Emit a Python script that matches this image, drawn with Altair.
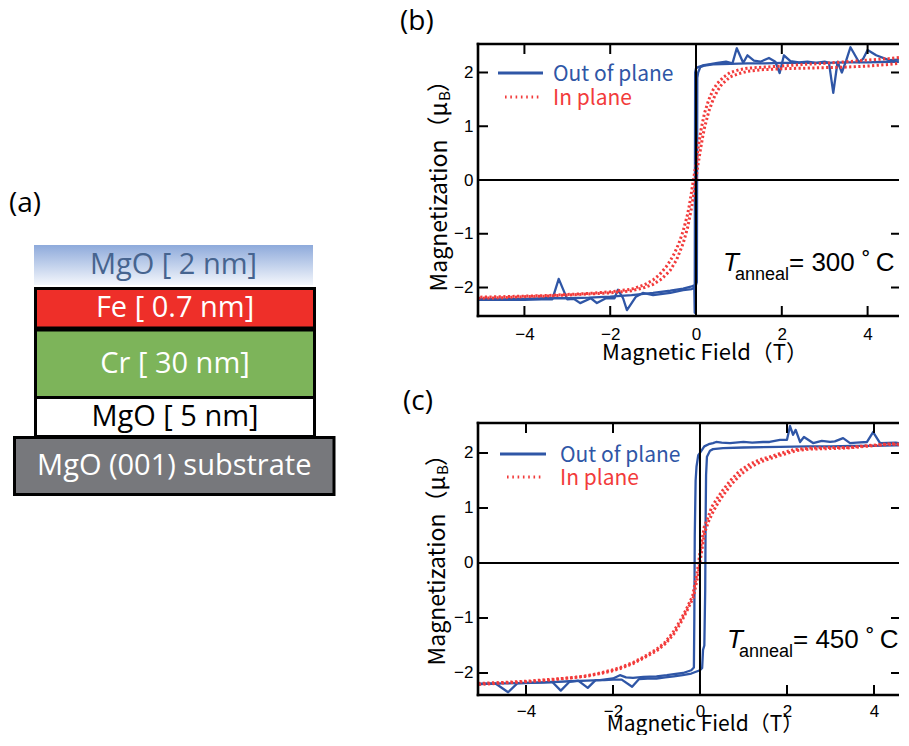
import altair as alt
import pandas as pd

# ================= DATA =================
# ---- panel (a): sample stack, bottom to top ----
layer_labels = ["MgO (001) substrate", "MgO [ 5 nm]", "Cr [ 30 nm]", "Fe [ 0.7 nm]", "MgO [ 2 nm]"]
layer_fills = ["#77787c", "#ffffff", "#7db45a", "#ee2f29", "#8eaadb"]
layer_text_colors = ["#ffffff", "#000000", "#ffffff", "#ffffff", "#46648f"]

# ---- axis ticks ----
x_ticks = [-4, -2, 0, 2, 4]
y_ticks = [-2, -1, 0, 1, 2]

# ---- panel (b): T_anneal = 300 C ----
b_oop_dn_x = [4.73, 4.5, 4.2, 4.0, 3.9, 3.8, 3.6, 3.5, 3.4, 3.3, 3.2, 3.1, 3.0, 2.8, 2.6, 2.4, 2.2, 2.05,
              1.95, 1.85, 1.7, 1.5, 1.35, 1.2, 1.1, 0.95, 0.85, 0.7, 0.5, 0.3, 0.15, 0.05, 0.0, -0.02, -0.03,
              -0.04, -0.1, -0.3, -0.6, -1.0, -1.24, -1.4, -1.61, -1.7, -1.82, -1.9, -2.1, -2.31, -2.45, -2.7,
              -2.85, -3.0, -3.2, -3.35, -3.6, -4.0, -4.5, -5.08]
b_oop_dn_y = [2.24, 2.23, 2.32, 2.42, 2.26, 2.19, 2.47, 2.22, 2.0, 2.2, 1.62, 2.18, 2.2, 2.18, 2.2, 2.19,
              2.21, 2.32, 1.99, 2.2, 2.27, 2.2, 2.22, 2.32, 2.18, 2.45, 2.17, 2.2, 2.18, 2.15, 2.13, 2.1, 2.08,
              2.0, -2.47, -2.0, -2.03, -2.05, -2.1, -2.14, -2.1, -2.17, -2.42, -2.2, -2.04, -2.2, -2.2, -2.29,
              -2.2, -2.29, -2.21, -2.22, -1.84, -2.22, -2.22, -2.23, -2.23, -2.23]
b_oop_up_x = [-5.08, -4.5, -4.0, -3.5, -3.0, -2.5, -2.0, -1.5, -1.0, -0.6, -0.3, -0.1, 0.0, 0.02, 0.03,
              0.05, 0.1, 0.2, 0.4, 0.8, 1.2, 1.6, 2.0, 2.5, 3.0, 3.5, 4.0, 4.5, 4.73]
b_oop_up_y = [-2.21, -2.22, -2.21, -2.2, -2.2, -2.19, -2.17, -2.14, -2.1, -2.06, -2.02, -1.98, -1.95,
              -1.9, 1.9, 2.0, 2.1, 2.13, 2.15, 2.16, 2.17, 2.17, 2.18, 2.18, 2.18, 2.19, 2.19, 2.2, 2.2]
b_ip_dn_x = [4.73, 4.5, 4.0, 3.5, 3.0, 2.5, 2.0, 1.6, 1.2, 1.0, 0.8, 0.65, 0.5, 0.4, 0.3, 0.2, 0.12, 0.05, 0.0,
             -0.05, -0.1, -0.15, -0.2, -0.3, -0.4, -0.5, -0.6, -0.7, -0.85, -1.0, -1.2, -1.5, -2.0, -2.5,
             -3.0, -3.5, -4.0, -4.5, -5.08]
b_ip_dn_y = [2.28, 2.26, 2.23, 2.2, 2.17, 2.15, 2.12, 2.1, 2.08, 2.05, 2.0, 1.92, 1.8, 1.68, 1.5, 1.25, 0.95,
             0.6, 0.3, 0.05, -0.2, -0.45, -0.65, -0.95, -1.18, -1.36, -1.5, -1.62, -1.76, -1.86, -1.95, -2.03,
             -2.08, -2.11, -2.13, -2.15, -2.16, -2.17, -2.18]
b_ip_up_x = [-5.08, -4.5, -4.0, -3.5, -3.0, -2.5, -2.0, -1.5, -1.2, -1.0, -0.8, -0.6, -0.45, -0.3, -0.2, -0.1,
             -0.03, 0.03, 0.1, 0.15, 0.2, 0.3, 0.4, 0.5, 0.6, 0.8, 1.0, 1.2, 1.5, 2.0, 2.5, 3.0, 3.5, 4.0,
             4.5, 4.73]
b_ip_up_y = [-2.2, -2.19, -2.17, -2.16, -2.14, -2.12, -2.1, -2.06, -2.0, -1.94, -1.84, -1.68, -1.48, -1.18,
             -0.9, -0.5, -0.15, 0.2, 0.55, 0.78, 0.98, 1.28, 1.5, 1.66, 1.78, 1.92, 1.98, 2.02, 2.05, 2.07,
             2.08, 2.09, 2.1, 2.12, 2.15, 2.17]

# ---- panel (c): T_anneal = 450 C ----
c_oop_dn_x = [4.57, 4.5, 4.14, 3.98, 3.84, 3.6, 3.45, 3.29, 3.1, 2.99, 2.8, 2.6, 2.39, 2.3, 2.2, 2.14,
              2.07, 2.0, 1.84, 1.6, 1.45, 1.2, 1.0, 0.69, 0.5, 0.37, 0.3, 0.2, 0.1, 0.05, 0.0, -0.04, -0.08,
              -0.1, -0.12, -0.13, -0.14, -0.2, -0.39, -0.6, -0.76, -1.0, -1.3, -1.54, -1.7, -1.84, -2.0,
              -2.3, -2.6, -3.0, -3.5, -4.0, -4.5, -5.1]
c_oop_dn_y = [2.18, 2.19, 2.18, 2.38, 2.2, 2.19, 2.18, 2.27, 2.21, 2.2, 2.22, 2.18, 2.29, 2.2, 2.42,
              2.33, 2.49, 2.24, 2.24, 2.2, 2.2, 2.19, 2.2, 2.18, 2.19, 2.2, 2.18, 2.16, 2.12, 2.06, 2.0, 1.96,
              1.75, 1.5, 0.5, -1.0, -1.9, -1.95, -2.0, -2.02, -2.04, -2.06, -2.07, -2.09, -2.08, -2.04, -2.1,
              -2.13, -2.14, -2.15, -2.17, -2.18, -2.19, -2.2]
c_oop_up_x = [-5.1, -4.7, -4.41, -4.2, -3.9, -3.6, -3.4, -3.2, -3.0, -2.8, -2.58, -2.4, -2.2, -2.0, -1.8,
              -1.56, -1.4, -1.2, -1.0, -0.8, -0.6, -0.4, -0.2, 0.0, 0.05, 0.07, 0.1, 0.12, 0.13, 0.14, 0.16,
              0.23, 0.3, 0.53, 1.0, 1.84, 2.5, 3.0, 3.5, 4.0, 4.5, 4.57]
c_oop_up_y = [-2.2, -2.19, -2.35, -2.19, -2.18, -2.17, -2.16, -2.32, -2.16, -2.14, -2.27, -2.13, -2.13,
              -2.12, -2.12, -2.25, -2.11, -2.1, -2.1, -2.08, -2.06, -2.04, -2.01, -1.95, -1.91, -1.58, -1.5,
              -0.5, 0.8, 1.6, 1.93, 2.04, 2.07, 2.09, 2.1, 2.11, 2.12, 2.12, 2.13, 2.13, 2.14, 2.14]
c_ip_dn_x = [4.57, 4.4, 3.8, 3.4, 3.0, 2.5, 2.15, 1.84, 1.6, 1.38, 1.15, 0.92, 0.7, 0.53, 0.4, 0.27, 0.2, 0.1,
             0.02, -0.06, -0.17, -0.32, -0.47, -0.62, -0.8, -1.0, -1.3, -1.54, -1.8, -2.0, -2.3, -2.6, -3.0,
             -3.5, -4.0, -4.5, -5.1]
c_ip_dn_y = [2.16, 2.17, 2.13, 2.1, 2.1, 2.09, 2.06, 1.99, 1.93, 1.88, 1.8, 1.68, 1.5, 1.33, 1.18, 1.02, 0.86,
             0.66, 0.3, -0.15, -0.6, -0.85, -1.07, -1.26, -1.44, -1.57, -1.71, -1.81, -1.89, -1.94, -2.0,
             -2.05, -2.09, -2.13, -2.16, -2.18, -2.21]
c_ip_up_x = [-5.1, -4.5, -4.0, -3.5, -3.0, -2.6, -2.3, -2.0, -1.8, -1.54, -1.3, -1.0, -0.8, -0.6, -0.45, -0.3,
             -0.15, -0.04, 0.04, 0.11, 0.2, 0.3, 0.42, 0.56, 0.72, 0.95, 1.18, 1.4, 1.62, 1.86, 2.2, 2.5, 3.0,
             3.4, 3.8, 4.4, 4.57]
c_ip_up_y = [-2.19, -2.17, -2.15, -2.12, -2.09, -2.06, -2.01, -1.96, -1.91, -1.83, -1.73, -1.6, -1.47, -1.29,
             -1.1, -0.87, -0.62, -0.2, 0.22, 0.56, 0.76, 0.93, 1.1, 1.26, 1.43, 1.62, 1.75, 1.84, 1.9, 1.96,
             2.04, 2.07, 2.08, 2.09, 2.12, 2.16, 2.15]

# ================= STYLE / LAYOUT =================
BLUE = "#2f56a6"
RED = "#f23b3b"
CJK = "Noto Sans CJK JP"
SANS = "Liberation Sans"
LBL = "Open Sans"
W, H = 421, 272

# schematic geometry of the stack drawing (panel px), bottom to top
stack_x0 = [6.5, 27.5, 27.5, 27.5, 26]
stack_x1 = [326, 306.5, 306.5, 306.5, 305]
stack_y0 = [429.5, 389.5, 322, 280.5, 237]
stack_y1 = [486.5, 428.5, 389.5, 320, 277]

DIAG_W, DIAG_H = 470, 687


def one(**kw):
    return pd.DataFrame({k: [v] for k, v in kw.items()})


# ---------------- panel (a) ----------------
stack = pd.DataFrame({
    "label": layer_labels, "fill": layer_fills, "tcol": layer_text_colors,
    "x0": stack_x0, "x1": stack_x1, "y0": stack_y0, "y1": stack_y1,
})
stack["xc"] = (stack.x0 + stack.x1) / 2
stack["yc"] = (stack.y0 + stack.y1) / 2

dxs = alt.Scale(domain=[0, DIAG_W], nice=False, zero=False)
dys = alt.Scale(domain=[0, DIAG_H], nice=False, zero=False, reverse=True)

boxes = alt.Chart(stack.iloc[:4]).mark_rect(stroke="black", strokeWidth=3).encode(
    x=alt.X("x0:Q", scale=dxs, axis=None), x2="x1:Q",
    y=alt.Y("y0:Q", scale=dys, axis=None), y2="y1:Q",
    fill=alt.Fill("fill:N", scale=None),
)
cap = alt.Chart(stack.iloc[4:]).mark_rect(
    fill=alt.Gradient(gradient="linear", x1=0, x2=0, y1=0, y2=1,
                      stops=[alt.GradientStop(color=layer_fills[4], offset=0),
                             alt.GradientStop(color="#f4f7fc", offset=1)])
).encode(
    x=alt.X("x0:Q", scale=dxs, axis=None), x2="x1:Q",
    y=alt.Y("y0:Q", scale=dys, axis=None), y2="y1:Q",
)
stack_text = alt.Chart(stack).mark_text(font=LBL, fontSize=29, baseline="middle", align="center").encode(
    x=alt.X("xc:Q", scale=dxs, axis=None), y=alt.Y("yc:Q", scale=dys, axis=None),
    text="label:N", color=alt.Color("tcol:N", scale=None),
)
a_label = alt.Chart(one(t="(a)")).mark_text(font=LBL, fontSize=28, align="left", baseline="middle").encode(
    x=alt.value(1), y=alt.value(196), text="t:N")
diagram = alt.layer(cap, boxes, stack_text, a_label).properties(width=DIAG_W, height=DIAG_H)


# ---------------- panels (b), (c) ----------------
def curve(xv, yv, name):
    return pd.DataFrame({"x": xv, "y": yv, "i": list(range(len(xv))), "seg": name})


def panel(xdom, ydom, oop, ip, tag, temp, P):
    xs = alt.Scale(domain=xdom, nice=False, zero=False)
    ys = alt.Scale(domain=ydom, nice=False, zero=False)
    xax = alt.Axis(values=x_ticks, title=None, ticks=False, domain=False, grid=False, labelFont=SANS,
                   labelFontSize=17, labelColor="black", labelPadding=P["lp"])
    yax = alt.Axis(values=y_ticks, title=None, ticks=False, domain=False, grid=False, labelFont=SANS,
                   labelFontSize=17, labelColor="black", labelPadding=5)

    def X():
        return alt.X("x:Q", scale=xs, axis=xax)

    def Y():
        return alt.Y("y:Q", scale=ys, axis=yax)

    blue = pd.concat([curve(oop[0], oop[1], "dn"), curve(oop[2], oop[3], "up")])
    red = pd.concat([curve(ip[0], ip[1], "dn"), curve(ip[2], ip[3], "up")])
    xt = pd.DataFrame({"x": x_ticks})
    yt = pd.DataFrame({"y": y_ticks})
    dummy = one(k=0)

    layers = []
    layers.append(alt.Chart(blue).mark_line(color=BLUE, strokeWidth=2.3, clip=True, strokeJoin="round").encode(
        x=X(), y=Y(), detail="seg:N", order="i:Q"))
    layers.append(alt.Chart(red).mark_line(color=RED, strokeWidth=3, strokeDash=[2.2, 2.4], clip=True).encode(
        x=X(), y=Y(), detail="seg:N", order="i:Q"))
    # zero lines
    layers.append(alt.Chart(one(x=0)).mark_rule(color="black", strokeWidth=2).encode(
        x=X(), y=alt.value(0), y2=alt.value(H)))
    layers.append(alt.Chart(one(y=0)).mark_rule(color="black", strokeWidth=2).encode(
        y=Y(), x=alt.value(0), x2=alt.value(W)))
    # inward ticks
    layers.append(alt.Chart(xt).mark_rule(color="black", strokeWidth=2).encode(
        x=X(), y=alt.value(H - 10), y2=alt.value(H)))
    layers.append(alt.Chart(xt).mark_rule(color="black", strokeWidth=2).encode(
        x=X(), y=alt.value(0), y2=alt.value(10)))
    layers.append(alt.Chart(yt).mark_rule(color="black", strokeWidth=2).encode(
        y=Y(), x=alt.value(0), x2=alt.value(10)))
    layers.append(alt.Chart(yt).mark_rule(color="black", strokeWidth=2).encode(
        y=Y(), x=alt.value(W - 8), x2=alt.value(W)))
    # frame (right edge lies beyond the picture)
    layers.append(alt.Chart(dummy).mark_rule(color="black", strokeWidth=2.6, strokeCap="square").encode(
        x=alt.value(0), y=alt.value(0), y2=alt.value(H)))
    layers.append(alt.Chart(dummy).mark_rule(color="black", strokeWidth=2.6).encode(
        x=alt.value(-1.3), x2=alt.value(W), y=alt.value(0)))
    layers.append(alt.Chart(dummy).mark_rule(color="black", strokeWidth=2.6).encode(
        x=alt.value(-1.3), x2=alt.value(W), y=alt.value(H)))
    # legend
    layers.append(alt.Chart(dummy).mark_rule(color=BLUE, strokeWidth=3).encode(
        x=alt.value(P["lb"][0]), x2=alt.value(P["lb"][1]), y=alt.value(P["lb"][2])))
    layers.append(alt.Chart(dummy).mark_rule(color=RED, strokeWidth=3, strokeDash=[1.6, 3.7]).encode(
        x=alt.value(P["lr"][0]), x2=alt.value(P["lr"][1]), y=alt.value(P["lr"][2])))
    layers.append(alt.Chart(one(t="Out of plane")).mark_text(
        font=CJK, fontSize=21, color=BLUE, align="left", baseline="middle").encode(
        x=alt.value(P["tb"][0]), y=alt.value(P["tb"][1]), text="t:N"))
    layers.append(alt.Chart(one(t="In plane")).mark_text(
        font=CJK, fontSize=21, color=RED, align="left", baseline="middle").encode(
        x=alt.value(P["tr"][0]), y=alt.value(P["tr"][1]), text="t:N"))
    # T_anneal annotation
    tx, ty = P["T"]
    layers.append(alt.Chart(one(t="T")).mark_text(
        font=SANS, fontStyle="italic", fontSize=26, align="left", baseline="alphabetic", color="black").encode(
        x=alt.value(tx), y=alt.value(ty), text="t:N"))
    layers.append(alt.Chart(one(t="anneal")).mark_text(
        font=SANS, fontSize=18, align="left", baseline="alphabetic", color="black").encode(
        x=alt.value(tx + 12), y=alt.value(ty + 9), text="t:N"))
    layers.append(alt.Chart(one(t="= " + temp + " \u02da\u2009C")).mark_text(
        font=SANS, fontSize=26, align="left", baseline="alphabetic", color="black").encode(
        x=alt.value(tx + 66), y=alt.value(ty), text="t:N"))
    # panel tag
    layers.append(alt.Chart(one(t=tag)).mark_text(
        font=LBL, fontSize=28, align="left", baseline="top", color="black").encode(
        x=alt.value(P["tag"][0]), y=alt.value(P["tag"][1]), text="t:N"))
    # axis titles
    layers.append(alt.Chart(one(t="Magnetic Field\uff08T\uff09")).mark_text(
        font=CJK, fontSize=P["xfs"], align="center", baseline="alphabetic", color="black").encode(
        x=alt.value(P["xt"][0]), y=alt.value(P["xt"][1]), text="t:N"))
    yx, yend = P["yt"]
    layers.append(alt.Chart(one(t="Magnetization\uff08\u03bc")).mark_text(
        font=CJK, fontSize=23, align="right", baseline="middle", angle=270, color="black").encode(
        x=alt.value(yx), y=alt.value(yend), text="t:N"))
    layers.append(alt.Chart(one(t="B")).mark_text(
        font=CJK, fontSize=15, align="left", baseline="middle", angle=270, color="black").encode(
        x=alt.value(yx + 5), y=alt.value(yend - 1), text="t:N"))
    layers.append(alt.Chart(one(t="\uff09")).mark_text(
        font=CJK, fontSize=23, align="left", baseline="middle", angle=270, color="black").encode(
        x=alt.value(yx), y=alt.value(yend - 10), text="t:N"))
    return alt.layer(*layers).properties(width=W, height=H)


Pb = {"lb": (20, 65, 29), "lr": (27, 64, 53), "tb": (75, 31), "tr": (75, 55), "T": (245, 227),
      "tag": (-78, -36), "xt": (227, 316), "yt": (-38, 58), "lp": 10, "xfs": 22}
Pc = {"lb": (22, 68, 31), "lr": (29, 66, 54), "tb": (82, 33), "tr": (82, 56), "T": (249, 225),
      "tag": (-75, -35), "xt": (227, 308), "yt": (-40, 53), "lp": 8, "xfs": 21}

chart_b = panel([-5.082, 4.732], [-2.53, 2.53],
                (b_oop_dn_x, b_oop_dn_y, b_oop_up_x, b_oop_up_y),
                (b_ip_dn_x, b_ip_dn_y, b_ip_up_x, b_ip_up_y), "(b)", "300", Pb)
chart_c = panel([-5.103, 4.575], [-2.4, 2.545],
                (c_oop_dn_x, c_oop_dn_y, c_oop_up_x, c_oop_up_y),
                (c_ip_dn_x, c_ip_dn_y, c_ip_up_x, c_ip_up_y), "(c)", "450", Pc)


def spacer(h):
    return alt.Chart(one(k=0)).mark_point(opacity=0, size=1).encode(
        x=alt.value(200), y=alt.value(h / 2)).properties(width=W, height=h)


right = alt.vconcat(spacer(36), chart_b, spacer(107), chart_c, spacing=0, bounds="flush")
chart = alt.hconcat(diagram, right, spacing=0, bounds="flush").properties(padding=0).configure_view(
    stroke=None)

chart.save("out.html", embed_options={"renderer": "svg", "actions": False})
